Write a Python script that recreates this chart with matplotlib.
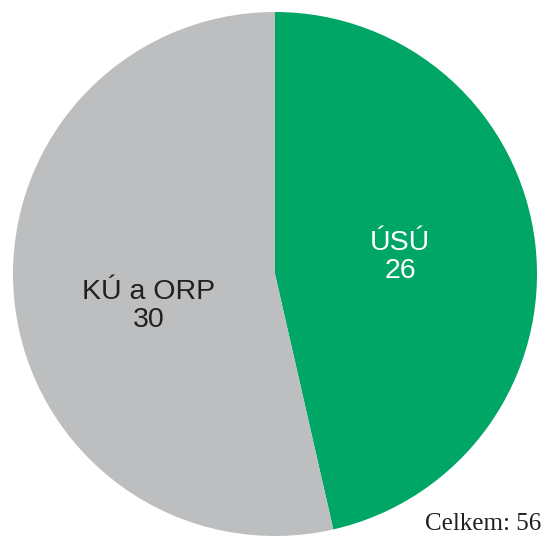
import matplotlib
matplotlib.use("Agg")
import matplotlib.pyplot as plt

categories = ["ÚSÚ", "KÚ a ORP"]
values = [26, 30]
colors = ["#00A665", "#BCBEC0"]
total_label = "Celkem: 56"

W, H = 545, 536
fig = plt.figure(figsize=(W / 100, H / 100), dpi=100)
ax = fig.add_axes([0, 0, 1, 1])

cx, cy, r = 275, H - 274, 262
ax.pie(values, colors=colors, startangle=90, counterclock=False,
       center=(cx, cy), radius=r, frame=True,
       wedgeprops=dict(linewidth=0))
ax.set_xlim(0, W)
ax.set_ylim(0, H)
ax.set_aspect("equal")
ax.axis("off")

ax.text(400, H - 257, f"{categories[0]}\n{values[0]}", color="white",
        ha="center", va="center", fontsize=20.5, family="Liberation Sans",
        linespacing=1.12)
ax.text(149, H - 306, f"{categories[1]}\n{values[1]}", color="#231F20",
        ha="center", va="center", fontsize=20.5, family="Liberation Sans",
        linespacing=1.12)
ax.text(541, H - 530, total_label, ha="right", va="baseline", fontsize=18,
        family="Liberation Serif", color="#231F20")

fig.savefig("out.png", dpi=100)
